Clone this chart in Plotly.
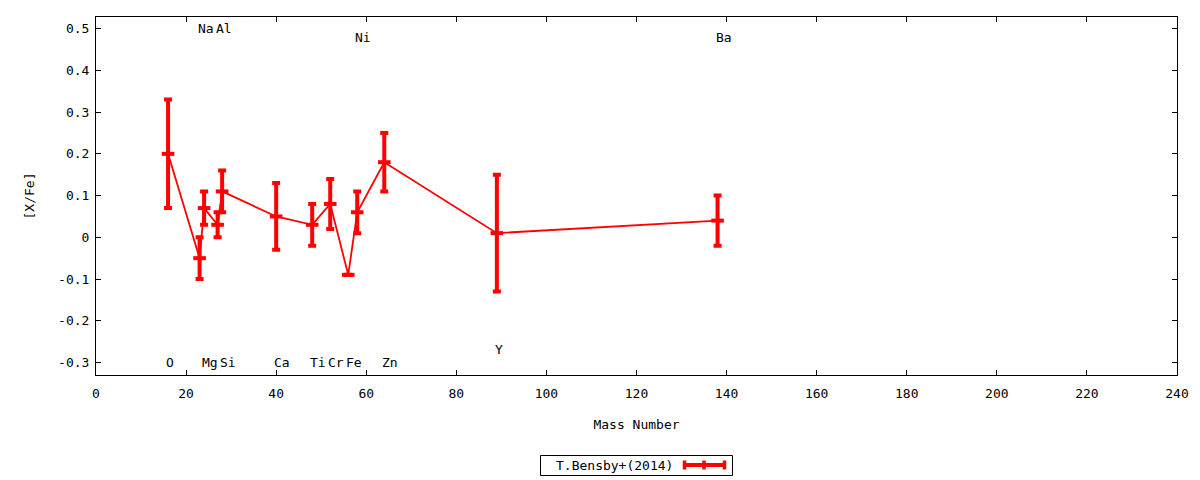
import plotly.graph_objects as go

elements = ["O", "Na", "Mg", "Al", "Si", "Ca", "Ti", "Cr", "Fe", "Ni", "Zn", "Y", "Ba"]
mass = [16, 23, 24, 27, 28, 40, 48, 52, 56, 58, 64, 89, 138]
xfe = [0.20, -0.05, 0.07, 0.03, 0.11, 0.05, 0.03, 0.08, -0.09, 0.06, 0.18, 0.01, 0.04]
err = [0.13, 0.05, 0.04, 0.03, 0.05, 0.08, 0.05, 0.06, 0.0, 0.05, 0.07, 0.14, 0.06]
label_y = [-0.30, 0.50, -0.30, 0.50, -0.30, -0.30, -0.30, -0.30, -0.30, 0.48, -0.30, -0.27, 0.48]
series_name = "T.Bensby+(2014)"
y_tickvals = [-0.3, -0.2, -0.1, 0.0, 0.1, 0.2, 0.3, 0.4, 0.5]
y_ticktext = ["-0.3", "-0.2", "-0.1", "0", "0.1", "0.2", "0.3", "0.4", "0.5"]
x_tickvals = [0, 20, 40, 60, 80, 100, 120, 140, 160, 180, 200, 220, 240]

FONT = "DejaVu Sans Mono"
FS = 13
RED = "#ff0000"

fig = go.Figure()
fig.add_trace(go.Scatter(
    x=mass, y=xfe, mode="lines+markers", name=series_name,
    line=dict(color=RED, width=1.8),
    marker=dict(symbol="line-ew", size=9, line=dict(color=RED, width=4), color=RED),
    error_y=dict(type="data", array=err, visible=True, color=RED, thickness=4, width=4),
    showlegend=False, cliponaxis=False,
))

annotations = []
for el, m, ly in zip(elements, mass, label_y):
    annotations.append(dict(x=m, y=ly, xref="x", yref="y", text=el, showarrow=False,
                            xanchor="left", yanchor="middle", xshift=-4,
                            font=dict(family=FONT, size=FS, color="black")))

# page has an 8px body margin; figure is sized to fit the 1200x480 window
OFF = 8
W, H = 1200 - OFF, 480 - OFF
L, T = 96 - OFF, 17 - OFF
R = W - (1177 - OFF)
B = H - (375 - OFF)
pw, ph = W - L - R, H - T - B
def px(xp):
    return (xp - OFF - L) / pw
def py(yp):
    return (H - B - (yp - OFF)) / ph

shapes = [
    dict(type="rect", xref="paper", yref="paper", x0=px(540.5), x1=px(732.5),
         y0=py(475.5), y1=py(455.5), line=dict(color="black", width=1), fillcolor="white"),
    dict(type="line", xref="paper", yref="paper", x0=px(683), x1=px(726),
         y0=py(465), y1=py(465), line=dict(color=RED, width=4)),
]
for cx in (684.5, 704, 724.5):
    shapes.append(dict(type="line", xref="paper", yref="paper", x0=px(cx), x1=px(cx),
                       y0=py(460.5), y1=py(469.5), line=dict(color=RED, width=3.5)))
annotations.append(dict(x=px(675), y=py(465), xref="paper", yref="paper",
                        text=series_name, showarrow=False, xanchor="right", yanchor="middle",
                        font=dict(family=FONT, size=FS, color="black")))

axis_common = dict(showline=True, linecolor="black", linewidth=1, mirror="ticks",
                   ticks="inside", ticklen=5, tickcolor="black", tickwidth=1,
                   showgrid=False, zeroline=False, automargin=False,
                   tickfont=dict(family=FONT, size=FS, color="black"))

fig.update_layout(
    width=W, height=H,
    margin=dict(l=L, r=R, t=T, b=B),
    plot_bgcolor="white", paper_bgcolor="white",
    font=dict(family=FONT, size=FS, color="black"),
    xaxis=dict(range=[0, 240], tickmode="array", tickvals=x_tickvals, ticklabelstandoff=6,
               title=dict(text="Mass Number", font=dict(family=FONT, size=FS), standoff=20),
               **axis_common),
    yaxis=dict(range=[-0.330, 0.528], tickmode="array", tickvals=y_tickvals, ticktext=y_ticktext,
               ticklabelstandoff=3,
               title=dict(text="[X/Fe]", font=dict(family=FONT, size=FS), standoff=20),
               **axis_common),
    annotations=annotations,
    shapes=shapes,
)

fig.write_html("out.html")
